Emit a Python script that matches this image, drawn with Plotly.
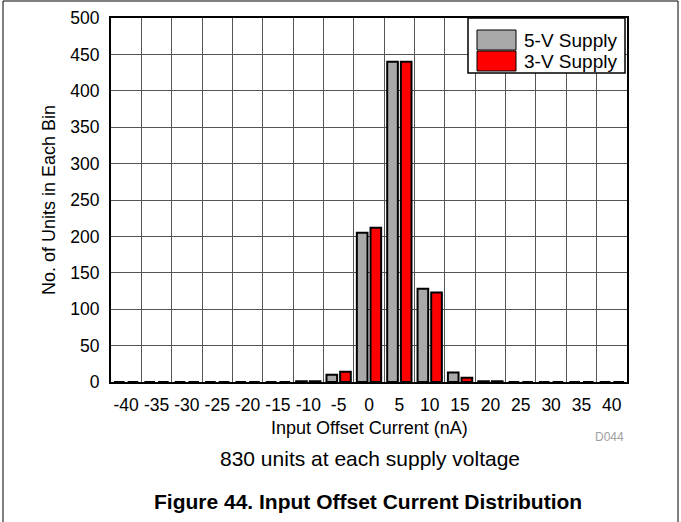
import plotly.graph_objects as go

# ---- data ----
bins = ["-40", "-35", "-30", "-25", "-20", "-15", "-10", "-5", "0", "5",
        "10", "15", "20", "25", "30", "35", "40"]
supply_5v = [0, 0, 0, 0, 0, 0, 1, 10, 205, 440, 128, 13, 1, 0, 0, 0, 0]
supply_3v = [0, 0, 0, 0, 0, 0, 1, 14, 212, 440, 123, 6, 1, 0, 0, 0, 0]
series_names = ["5-V Supply", "3-V Supply"]
series_colors = ["#A9A9A9", "#FF0000"]
y_ticks = list(range(0, 501, 50))

FONT = "Arial, 'Liberation Sans', sans-serif"
W, H = 681, 522
L, R, T, B = 111, 54, 18, 140
PW, PH = W - L - R, H - T - B


def px(x):
    return (x - L) / PW


def py(y):
    return (H - B - y) / PH


fig = go.Figure()
for name, vals, col in zip(series_names, [supply_5v, supply_3v], series_colors):
    fig.add_trace(go.Bar(
        x=bins, y=vals, name=name,
        marker=dict(color=col, line=dict(color="black", width=2)),
        showlegend=False,
    ))

fig.update_layout(
    width=W, height=H,
    margin=dict(l=L, r=R, t=T, b=B),
    paper_bgcolor="white", plot_bgcolor="white",
    barmode="group", bargap=0.1, bargroupgap=0.22,
    font=dict(family=FONT, size=17, color="black"),
    xaxis=dict(
        type="category", tickson="boundaries", ticks="", tickangle=0,
        automargin=False,
        showgrid=True, gridcolor="#555555", gridwidth=1,
        showline=True, linecolor="black", linewidth=2, mirror=True,
        tickfont=dict(size=17.5), ticklabelstandoff=6,
    ),
    yaxis=dict(
        range=[0, 500], tickvals=y_ticks, ticks="", automargin=False,
        showgrid=True, gridcolor="#555555", gridwidth=1,
        showline=True, linecolor="black", linewidth=2, mirror=True,
        zeroline=False, tickfont=dict(size=17.5), ticklabelstandoff=6,
    ),
)

shapes = []
# legend box and swatches
shapes.append(dict(type="rect", xref="paper", yref="paper",
                   x0=px(468), x1=px(625), y0=py(73), y1=py(18),
                   fillcolor="white", line=dict(color="black", width=1.5)))
shapes.append(dict(type="rect", xref="paper", yref="paper",
                   x0=px(477), x1=px(516), y0=py(50), y1=py(30),
                   fillcolor=series_colors[0], line=dict(color="black", width=1)))
shapes.append(dict(type="rect", xref="paper", yref="paper",
                   x0=px(477), x1=px(516), y0=py(71), y1=py(51),
                   fillcolor=series_colors[1], line=dict(color="black", width=1)))
# outer page frame
for (x0, y0, x1, y1) in [(3, 1, 3, 522), (3, 1, 678, 1), (678, 1, 678, 522)]:
    shapes.append(dict(type="line", xref="paper", yref="paper",
                       x0=px(x0), x1=px(x1), y0=py(y0), y1=py(y1),
                       line=dict(color="black", width=1)))

annotations = [
    dict(text=series_names[0], x=px(522), y=py(40), xanchor="left", yanchor="middle",
         font=dict(size=19)),
    dict(text=series_names[1], x=px(522), y=py(61), xanchor="left", yanchor="middle",
         font=dict(size=19)),
    dict(text="Input Offset Current (nA)", x=px(369), y=py(428),
         xanchor="center", yanchor="middle", font=dict(size=18)),
    dict(text="No. of Units in Each Bin", x=px(49), y=py(200), textangle=-90,
         xanchor="center", yanchor="middle", font=dict(size=18)),
    dict(text="D044", x=px(626), y=py(437), xanchor="right", yanchor="middle",
         font=dict(size=12, color="#A0A0A0")),
    dict(text="830 units at each supply voltage", x=px(370), y=py(458),
         xanchor="center", yanchor="middle", font=dict(size=21)),
    dict(text="<b>Figure 44. Input Offset Current Distribution</b>", x=px(368), y=py(501),
         xanchor="center", yanchor="middle", font=dict(size=21)),
]
for a in annotations:
    a.update(xref="paper", yref="paper", showarrow=False)

fig.update_layout(shapes=shapes, annotations=annotations)
fig.write_html(
    "out.html",
    config={"displayModeBar": False},
    post_script="document.body.style.margin='0';document.body.style.overflow='hidden';",
)
